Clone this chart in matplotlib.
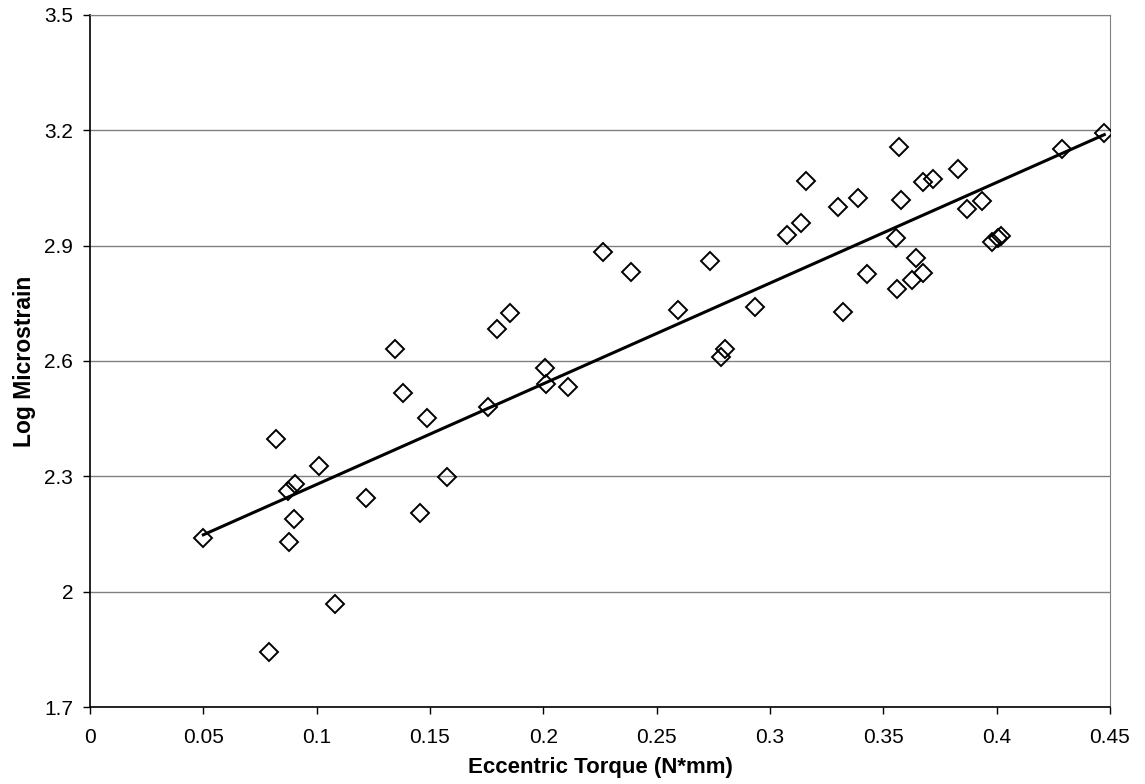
import numpy as np
import matplotlib
matplotlib.use('Agg')
import matplotlib.pyplot as plt

plt.rcParams['font.family'] = ['Liberation Sans', 'DejaVu Sans']

# eccentric torque (N*mm) and log microstrain per loading bout
torque = [0.050, 0.079, 0.082, 0.0874, 0.0878, 0.0900, 0.0904, 0.101, 0.108,
          0.1218, 0.1346, 0.138, 0.1456, 0.1487, 0.1575, 0.1756, 0.1796, 0.1853,
          0.2007, 0.2012, 0.211, 0.2263, 0.2387, 0.2594, 0.2735, 0.2784, 0.2801,
          0.2934, 0.3075, 0.3137, 0.316, 0.330, 0.332, 0.339, 0.343, 0.3555,
          0.356, 0.357, 0.358, 0.3627, 0.3645, 0.3675, 0.3675, 0.372, 0.383,
          0.387, 0.3935, 0.398, 0.4005, 0.402, 0.4288, 0.4475]
log_strain = [2.140, 1.843, 2.397, 2.262, 2.129, 2.189, 2.280, 2.327, 1.968,
              2.244, 2.631, 2.517, 2.205, 2.452, 2.298, 2.480, 2.683, 2.725,
              2.582, 2.540, 2.532, 2.884, 2.832, 2.733, 2.860, 2.610, 2.631,
              2.741, 2.928, 2.959, 3.068, 3.000, 2.727, 3.024, 2.826, 2.920,
              2.787, 3.157, 3.019, 2.811, 2.868, 2.830, 3.066, 3.074, 3.100,
              2.995, 3.016, 2.910, 2.920, 2.925, 3.152, 3.193]

x_ticks = [0, 0.05, 0.1, 0.15, 0.2, 0.25, 0.3, 0.35, 0.4, 0.45]
x_labels = ['0', '0.05', '0.1', '0.15', '0.2', '0.25', '0.3', '0.35', '0.4', '0.45']
y_ticks = [1.7, 2.0, 2.3, 2.6, 2.9, 3.2, 3.5]
y_labels = ['1.7', '2', '2.3', '2.6', '2.9', '3.2', '3.5']

x = np.array(torque)
y = np.array(log_strain)

fig = plt.figure(figsize=(11.45, 7.84), dpi=100)
ax = fig.add_axes([0.0786, 0.0982, 0.8908, 0.8827])

# linear trendline over the data range
slope, intercept = np.polyfit(x, y, 1)
xl = np.array([x.min(), x.max()])
ax.plot(xl, slope * xl + intercept, color='black', lw=2.2, zorder=3)

ax.plot(x, y, linestyle='none', marker='D', markersize=9.5,
        markerfacecolor='none', markeredgecolor='black', markeredgewidth=1.4,
        zorder=4)

ax.set_xlim(0, 0.45)
ax.set_ylim(1.7, 3.5)
ax.set_xticks(x_ticks)
ax.set_xticklabels(x_labels)
ax.set_yticks(y_ticks)
ax.set_yticklabels(y_labels)
ax.tick_params(direction='out', length=5, width=1, labelsize=15)
ax.tick_params(axis='x', pad=10)
ax.tick_params(axis='y', pad=7)

ax.yaxis.grid(True, color='#808080', lw=1)
ax.set_axisbelow(True)
for s in ['left', 'bottom']:
    ax.spines[s].set_color('black')
    ax.spines[s].set_linewidth(1.2)
ax.spines['right'].set_color('#808080')
ax.spines['top'].set_color('#808080')

ax.set_xlabel('Eccentric Torque (N*mm)', fontsize=16, fontweight='bold', labelpad=7)
ax.set_ylabel('Log Microstrain', fontsize=16.5, fontweight='bold', labelpad=6)

fig.savefig('out.png', dpi=100)
